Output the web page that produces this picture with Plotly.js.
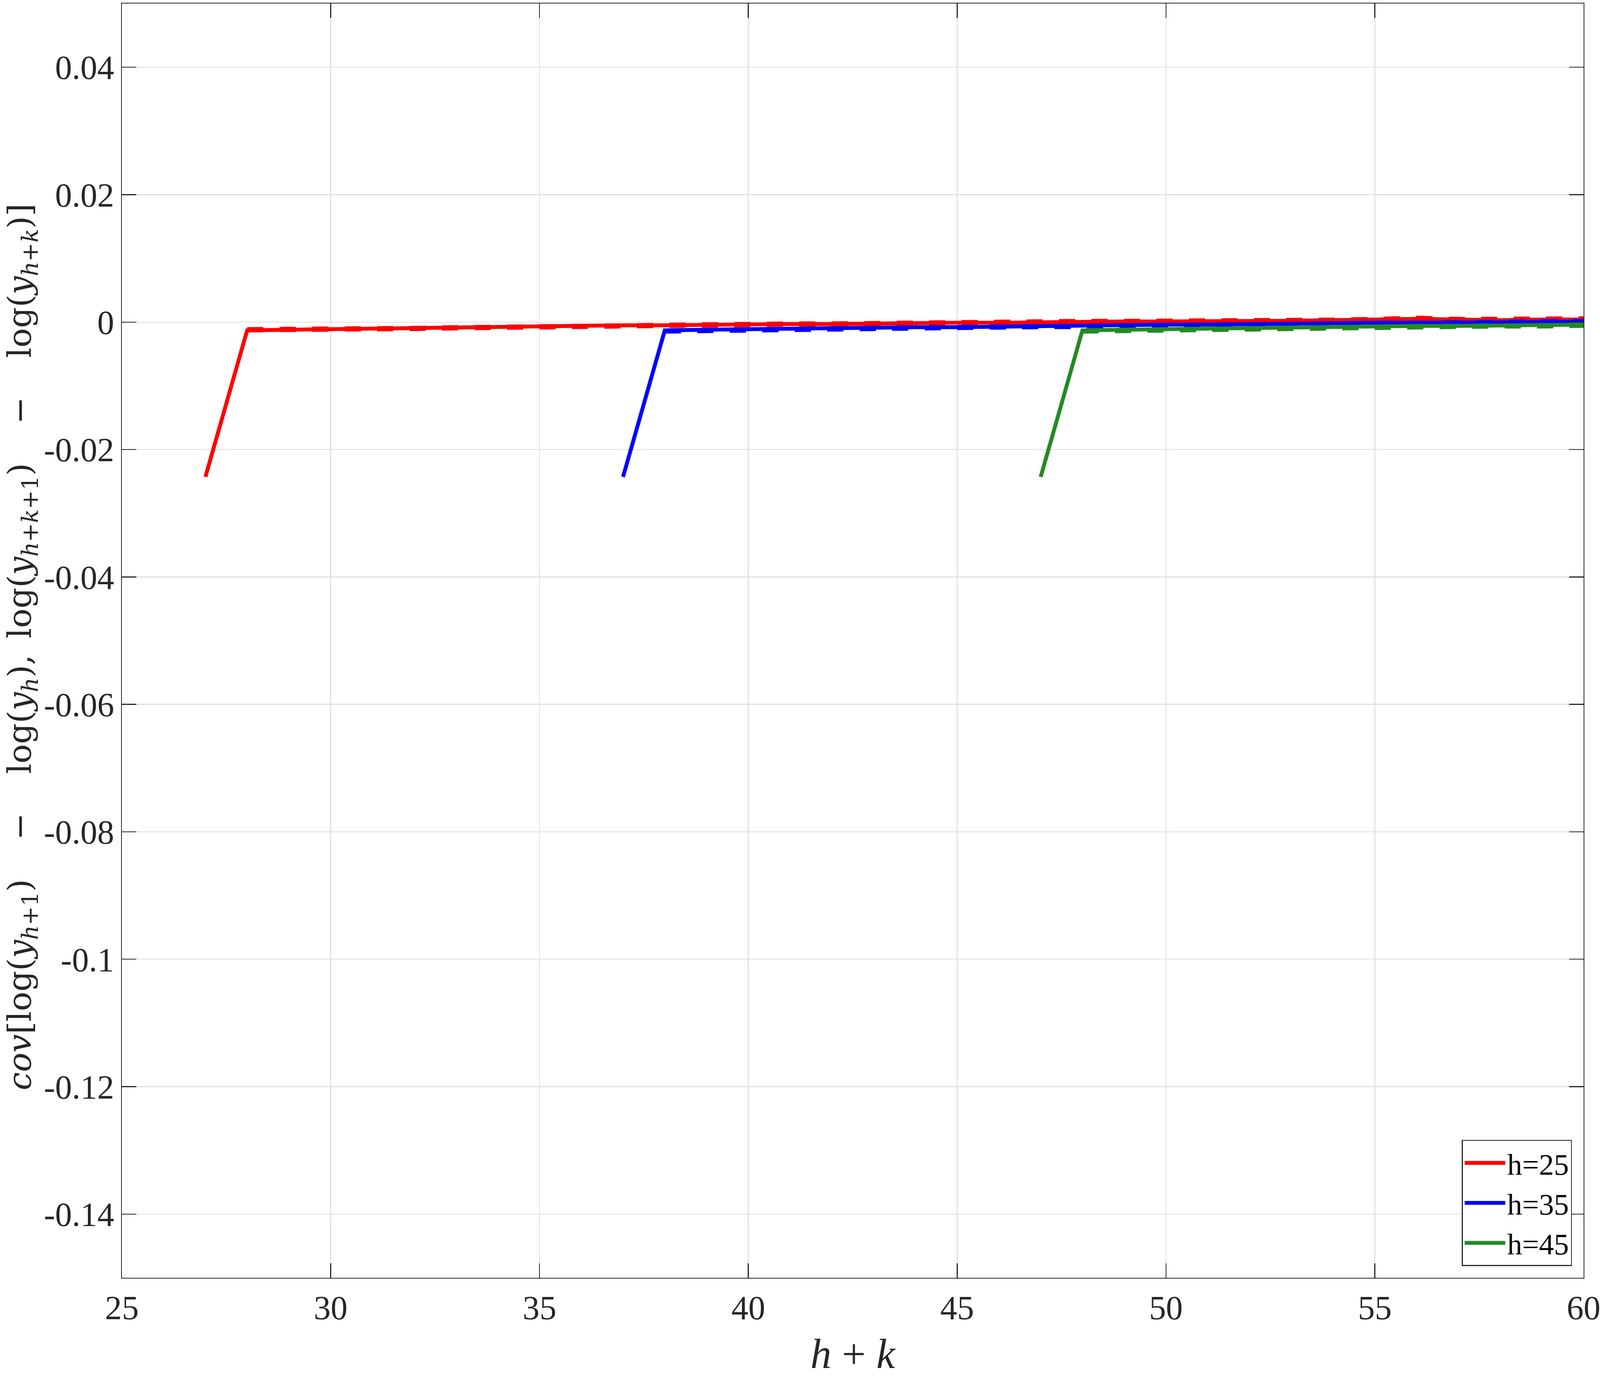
<!DOCTYPE html>
<html>
<head>
<meta charset="utf-8">
<script src="https://cdn.plot.ly/plotly-3.0.1.min.js"></script>
<style>
  html, body { margin: 0; padding: 0; background: #fff; overflow: hidden; }
  #chart { width: 100vw; height: 100vh; }
</style>
</head>
<body>
<div id="chart"></div>
<script>

// h + k values and covariances
var xH25 = [27,28,29,30,31,32,33,34,35,36,37,38,39,40,41,42,43,44,45,46,47,48,49,50,51,52,53,54,55,56,57,58,59,60];
var yH25 = [-0.0243,-0.0013,-0.0012,-0.0011,-0.0011,-0.0010,-0.0009,-0.0008,-0.0007,-0.0006,-0.0005,-0.0005,-0.0004,-0.0004,-0.0003,-0.0003,-0.0002,-0.0002,-0.0001,-0.0001,0.0000,0.0000,0.0001,0.0001,0.0001,0.0002,0.0002,0.0003,0.0004,0.0005,0.0004,0.0003,0.0004,0.0004];
var xH25d = [28,29,30,31,32,33,34,35,36,37,38,39,40,41,42,43,44,45,46,47,48,49,50,51,52,53,54,55,56,57,58,59,60];
var yH25d = [-0.0012,-0.0012,-0.0011,-0.0010,-0.0010,-0.0009,-0.0008,-0.0007,-0.0006,-0.0005,-0.0005,-0.0004,-0.0004,-0.0003,-0.0003,-0.0002,-0.0002,-0.0001,-0.0001,0.0000,0.0001,0.0001,0.0001,0.0002,0.0002,0.0003,0.0003,0.0004,0.0006,0.0004,0.0004,0.0004,0.0005];

var xH35 = [37,38,39,40,41,42,43,44,45,46,47,48,49,50,51,52,53,54,55,56,57,58,59,60];
var yH35 = [-0.0243,-0.0013,-0.0012,-0.0011,-0.0011,-0.0010,-0.0009,-0.0008,-0.0008,-0.0007,-0.0006,-0.0006,-0.0005,-0.0004,-0.0004,-0.0003,-0.0002,-0.0002,-0.0001,-0.0001,-0.0001,0.0000,0.0000,0.0001];
var xH35d = [38,39,40,41,42,43,44,45,46,47,48,49,50,51,52,53,54,55,56,57,58,59,60];
var yH35d = [-0.0014,-0.0013,-0.0012,-0.0011,-0.0011,-0.0010,-0.0009,-0.0009,-0.0008,-0.0007,-0.0007,-0.0006,-0.0005,-0.0005,-0.0004,-0.0003,-0.0003,-0.0002,-0.0002,-0.0001,-0.0001,0.0000,0.0001];

var xH45 = [47,48,49,50,51,52,53,54,55,56,57,58,59,60];
var yH45 = [-0.0243,-0.0013,-0.0012,-0.0011,-0.0010,-0.0009,-0.0008,-0.0008,-0.0007,-0.0006,-0.0006,-0.0005,-0.0005,-0.0004];
var xH45d = [48,49,50,51,52,53,54,55,56,57,58,59,60];
var yH45d = [-0.0014,-0.0013,-0.0012,-0.0011,-0.0010,-0.0010,-0.0009,-0.0008,-0.0007,-0.0007,-0.0006,-0.0006,-0.0005];

var seriesNames = ["h=25", "h=35", "h=45"];
var seriesColors = ["#ff0000", "#0000ff", "#228b22"];

var yTickVals = [0.04, 0.02, 0, -0.02, -0.04, -0.06, -0.08, -0.1, -0.12, -0.14];
var yTickText = ["0.04", "0.02", "0", "-0.02", "-0.04", "-0.06", "-0.08", "-0.1", "-0.12", "-0.14"];
var xTickVals = [25, 30, 35, 40, 45, 50, 55, 60];
var xTickText = ["25", "30", "35", "40", "45", "50", "55", "60"];

var xTitle = "<i>h</i> + <i>k</i>";
var yTitle = "<i>cov</i>[log(<i>y</i><sub><i>h</i>+1</sub>)\u2003\u2009−\u2003\u2009log(<i>y</i><sub><i>h</i></sub>),\u2002log(<i>y</i><sub><i>h</i>+<i>k</i>+1</sub>)\u2003\u2009−\u2003\u2009log(<i>y</i><sub><i>h</i>+<i>k</i></sub>)]";

// the figure was drawn for a 4927 x 3526 window; scale everything to what we really get
var W = window.innerWidth, H = window.innerHeight;
var k = W / 4927, kv = H / 3526;

var serif = "Liberation Serif, Times New Roman, serif";
var ink = "#262626";

function solid(x, y, i){
	return {
		x: x, y: y, type: "scatter", mode: "lines",
		name: seriesNames[i],
		line: {color: seriesColors[i], width: 12*k}
	};
}
// the dashed companion of each series sits almost on top of it, a bit wider
function dashed(x, y, i){
	return {
		x: x, y: y, type: "scatter", mode: "lines",
		showlegend: false,
		line: {color: seriesColors[i], width: 16*k, dash: (50*k) + "px," + (50*k) + "px"}
	};
}

var data = [
	solid(xH25, yH25, 0), dashed(xH25d, yH25d, 0),
	solid(xH35, yH35, 1), dashed(xH35d, yH35d, 1),
	solid(xH45, yH45, 2), dashed(xH45d, yH45d, 2)
];

var axisCommon = {
	showline: true, linecolor: ink, linewidth: 3*k, mirror: "ticks",
	ticks: "inside", ticklen: 45*k, tickwidth: 3*k, tickcolor: ink,
	showgrid: true, gridcolor: "#e0e0e0", gridwidth: 3*k,
	zeroline: false, ticklabeloverflow: "allow",
	tickfont: {family: serif, size: 104*k, color: ink}
};

var mL = 375, mR = 51;

var layout = {
	width: W, height: H,
	paper_bgcolor: "#fff", plot_bgcolor: "#fff",
	margin: {l: mL*k, r: mR*k, t: 9*kv, b: 254*kv, pad: 0},
	showlegend: true,
	legend: {
		x: 0.992, y: 0.0092, xanchor: "right", yanchor: "bottom",
		bgcolor: "#fff", bordercolor: ink, borderwidth: 3*k,
		font: {family: serif, size: 92*k, color: "#000"},
		itemwidth: 125*k,
		tracegroupgap: 0
	},
	xaxis: Object.assign({}, axisCommon, {
		range: [25, 60],
		tickvals: xTickVals, ticktext: xTickText,
		title: {
			text: xTitle,
			font: {family: serif, size: 108*kv, color: ink},
			standoff: 50*kv
		}
	}),
	yaxis: Object.assign({}, axisCommon, {
		range: [-0.15, 0.05],
		tickvals: yTickVals, ticktext: yTickText
	}),
	// y title as a rotated note so it can sit hard against the left edge
	annotations: [{
		text: yTitle,
		xref: "paper", yref: "paper",
		x: (1 - mL) / (4927 - mL - mR), y: 0.495,
		xanchor: "left", yanchor: "middle",
		textangle: -90, showarrow: false, borderpad: 0,
		font: {family: "DejaVu Serif, serif", size: 100*k, color: ink}
	}]
};

Plotly.newPlot("chart", data, layout, {displayModeBar: false, staticPlot: true});
</script>
</body>
</html>
